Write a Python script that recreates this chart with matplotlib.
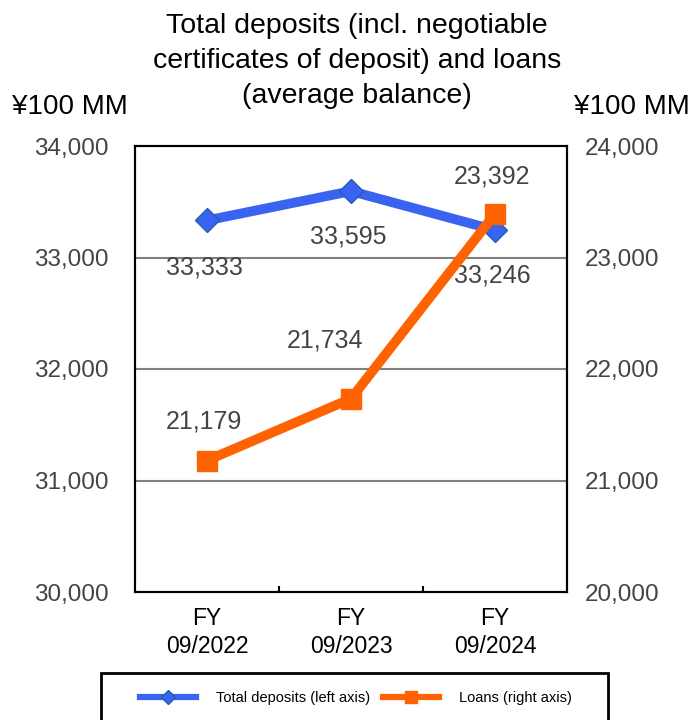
import numpy as np
import matplotlib.pyplot as plt
from matplotlib.lines import Line2D
from matplotlib.patches import Rectangle

plt.rcParams['font.family'] = ['Liberation Sans', 'DejaVu Sans']

periods = ["FY\n09/2022", "FY\n09/2023", "FY\n09/2024"]
deposits = [33333, 33595, 33246]
loans = [21179, 21734, 23392]

blue = "#3a63f2"
orange = "#ff6200"
label_gray = "#444444"

W, H = 694, 720
fig = plt.figure(figsize=(W / 100, H / 100), dpi=100)
ax = fig.add_axes([135 / W, 1 - 592 / H, (567 - 135) / W, (592 - 146) / H])
ax2 = ax.twinx()

x = np.arange(len(periods))
ax.set_xlim(-0.5, 2.5)
ax.set_ylim(30000, 34000)
ax2.set_ylim(20000, 24000)

for y in [31000, 32000, 33000]:
    ax.axhline(y, color="#808080", lw=1.5, zorder=1)

ax.plot(x, deposits, color=blue, lw=7, marker="D", ms=12,
        mfc=blue, mec="#1f5fb0", mew=1, zorder=3, solid_joinstyle="miter")
ax2.plot(x, loans, color=orange, lw=7, marker="s", ms=14,
         mfc=orange, mec=orange, zorder=3, solid_joinstyle="miter")

# value labels: deposits below the points, loans above
dep_offsets = [(-2, -34), (-2, -33), (-2, -33)]
loan_offsets = [(-2, 28), (-19, 42), (-2, 27)]
for xi, v, off in zip(x, deposits, dep_offsets):
    ax.annotate(f"{v:,}", (xi, v), xytext=off, textcoords="offset points",
                ha="center", va="center", fontsize=18, color=label_gray)
for xi, v, off in zip(x, loans, loan_offsets):
    ax2.annotate(f"{v:,}", (xi, v), xytext=off, textcoords="offset points",
                 ha="center", va="center", fontsize=18, color=label_gray)

ax.set_xticks(x)
ax.set_xticklabels(periods, fontsize=16.5, linespacing=1.25)
ax.set_xticks([0.5, 1.5], minor=True)
ax.tick_params(axis="x", which="major", length=0, pad=11)
ax.tick_params(axis="x", which="minor", length=4, direction="in", width=1.5)

ax.set_yticks(np.arange(30000, 34001, 1000))
ax.set_yticklabels([f"{v:,}" for v in range(30000, 34001, 1000)],
                   fontsize=17.5, color=label_gray)
ax.tick_params(axis="y", length=0, pad=19)
ax2.set_yticks(np.arange(20000, 24001, 1000))
ax2.set_yticklabels([f"{v:,}" for v in range(20000, 24001, 1000)],
                    fontsize=17.5, color=label_gray)
ax2.tick_params(axis="y", length=0, pad=13)

for a in (ax, ax2):
    for s in a.spines.values():
        s.set_linewidth(1.5)
        s.set_color("black")

fig.text(357 / W, 1 - 61 / H,
         "Total deposits (incl. negotiable\ncertificates of deposit) and loans\n(average balance)",
         ha="center", va="center", fontsize=20.5, linespacing=1.45)
fig.text(12 / W, 1 - 107 / H, "¥100 MM", ha="left", va="center", fontsize=20)
fig.text(574 / W, 1 - 107 / H, "¥100 MM", ha="left", va="center", fontsize=20)

# legend box runs past the bottom edge
fig.patches.append(Rectangle((101 / W, -0.05), (608 - 101) / W, (1 - 673 / H) + 0.05,
                             transform=fig.transFigure, fill=False,
                             edgecolor="black", lw=2))
handles = [
    Line2D([], [], color=blue, lw=4.5, marker="D", ms=7, mfc=blue, mec="#1f5fb0"),
    Line2D([], [], color=orange, lw=4.5, marker="s", ms=8, mfc=orange, mec=orange),
]
fig.legend(handles, ["Total deposits (left axis)", "Loans (right axis)"],
           loc="center", bbox_to_anchor=(356 / W, 1 - 698 / H), ncol=2,
           frameon=False, fontsize=10.5, handlelength=3.8, columnspacing=0.9,
           handletextpad=1.4)

fig.savefig("out.png", dpi=100)
